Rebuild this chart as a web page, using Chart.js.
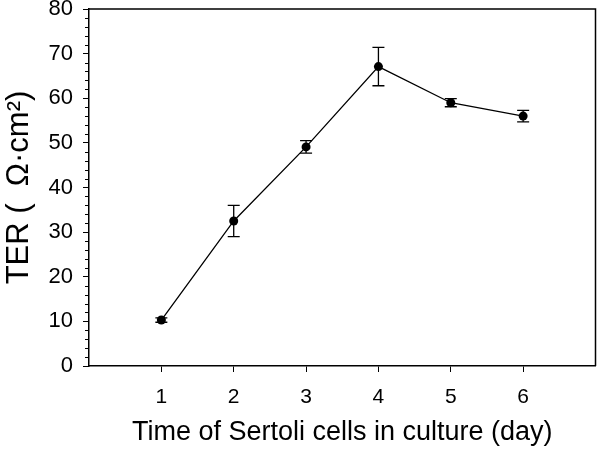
<!DOCTYPE html>
<html>
<head>
<meta charset="utf-8">
<script src="https://cdn.jsdelivr.net/npm/chart.js@4/dist/chart.umd.min.js"></script>
<style>
  html, body { margin: 0; padding: 0; background: #fff; }
  #wrap { width: 600px; height: 453px; }
</style>
</head>
<body>
<div id="wrap"><canvas id="chart" width="600" height="453"></canvas></div>
<script>
// data
const days = [1, 2, 3, 4, 5, 6];
const ter = [10.3, 32.5, 49.1, 67.1, 59.0, 56.0];
const terErr = [0.5, 3.5, 1.4, 4.3, 0.9, 1.3];
const yMinorTicks = [2, 4, 6, 8, 12, 14, 16, 18, 22, 24, 26, 28, 32, 34, 36, 38, 42, 44, 46, 48, 52, 54, 56, 58, 62, 64, 66, 68, 72, 74, 76, 78];

const FONT = 'Liberation Sans, Arial, sans-serif';

const points = days.map((d, i) => ({ x: d, y: ter[i] }));

// error bars, frame and minor ticks
const extras = {
    id: 'extras',
    afterDatasetsDraw(chart) {
        const ctx = chart.ctx;
        const xs = chart.scales.x;
        const ys = chart.scales.y;
        const area = chart.chartArea;
        ctx.save();
        ctx.strokeStyle = '#000';
        ctx.lineWidth = 1.3;
        days.forEach((d, i) => {
            const px = xs.getPixelForValue(d);
            const top = ys.getPixelForValue(ter[i] + terErr[i]);
            const bot = ys.getPixelForValue(ter[i] - terErr[i]);
            ctx.beginPath();
            ctx.moveTo(px, top);
            ctx.lineTo(px, bot);
            ctx.moveTo(px - 6, top);
            ctx.lineTo(px + 6, top);
            ctx.moveTo(px - 6, bot);
            ctx.lineTo(px + 6, bot);
            ctx.stroke();
        });
        // top and right frame
        ctx.lineWidth = 1.5;
        ctx.beginPath();
        ctx.moveTo(area.left, area.top);
        ctx.lineTo(area.right, area.top);
        ctx.lineTo(area.right, area.bottom);
        ctx.stroke();
        // minor ticks on y axis
        ctx.lineWidth = 1;
        ctx.beginPath();
        yMinorTicks.forEach(v => {
            const py = Math.round(ys.getPixelForValue(v)) + 0.5;
            ctx.moveTo(area.left - 4, py);
            ctx.lineTo(area.left, py);
        });
        ctx.stroke();
        ctx.restore();
    }
};

new Chart(document.getElementById('chart'), {
    type: 'line',
    data: {
        datasets: [{
            data: points,
            borderColor: '#000',
            borderWidth: 1.3,
            backgroundColor: '#000',
            pointRadius: 4.5,
            pointHoverRadius: 4.5,
            pointBackgroundColor: '#000',
            pointBorderWidth: 0,
            tension: 0,
            fill: false
        }]
    },
    options: {
        responsive: false,
        animation: false,
        devicePixelRatio: 1,
        layout: { padding: { top: 9, right: 2, left: 0, bottom: 0 } },
        plugins: {
            legend: { display: false },
            tooltip: { enabled: false }
        },
        scales: {
            x: {
                type: 'linear',
                min: 0,
                max: 7,
                afterFit(scale) {
                    scale.height = 87;
                    scale.paddingLeft = 0;
                    scale.paddingRight = 0;
                },
                border: { display: true, color: '#000', width: 1.5 },
                grid: {
                    drawOnChartArea: false,
                    tickLength: 6,
                    color: c => (c.tick && (c.tick.value === 0 || c.tick.value === 7)) ? 'rgba(0,0,0,0)' : '#000'
                },
                ticks: {
                    stepSize: 1,
                    color: '#000',
                    padding: 13,
                    font: { family: FONT, size: 21 },
                    callback: v => (v === 0 || v === 7) ? '' : v
                },
                title: {
                    display: true,
                    text: 'Time of Sertoli cells in culture (day)',
                    color: '#000',
                    font: { family: FONT, size: 27 },
                    padding: { top: 4 }
                }
            },
            y: {
                min: 0,
                max: 80,
                afterFit(scale) {
                    scale.width = 89;
                    scale.paddingTop = 0;
                    scale.paddingBottom = 0;
                },
                border: { display: true, color: '#000', width: 1.5 },
                grid: {
                    drawOnChartArea: false,
                    tickLength: 6,
                    color: '#000'
                },
                ticks: {
                    stepSize: 10,
                    color: '#000',
                    padding: 10,
                    font: { family: FONT, size: 22 }
                },
                title: {
                    display: true,
                    text: 'TER (  \u03A9\u00B7cm\u00B2)',
                    color: '#000',
                    font: { family: FONT, size: 31 },
                    padding: { top: 1, bottom: 0 }
                }
            }
        }
    },
    plugins: [extras]
});
</script>
</body>
</html>
